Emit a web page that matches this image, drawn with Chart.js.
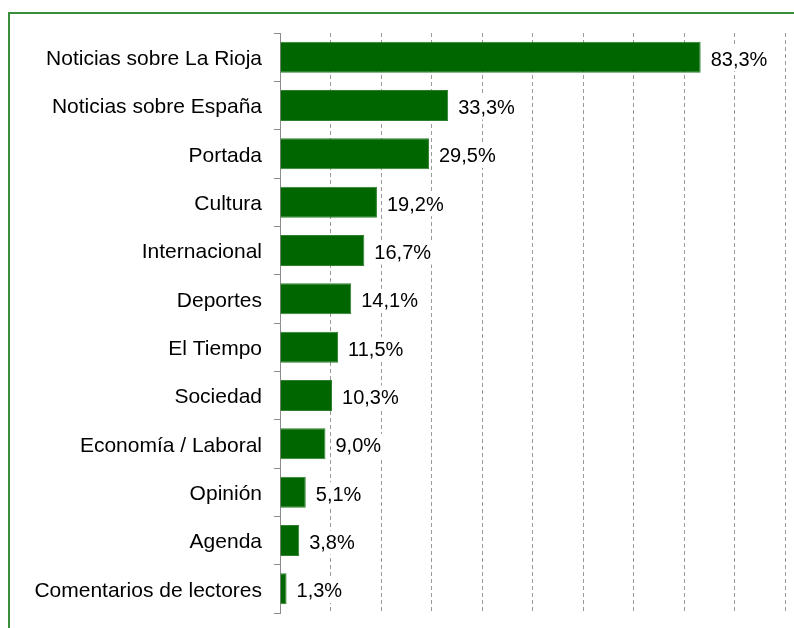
<!DOCTYPE html>
<html>
<head>
<meta charset="utf-8">
<script src="https://cdn.jsdelivr.net/npm/chart.js@4"></script>
<style>
  body { margin: 0; background: #fff; }
  #wrap { width: 794px; height: 628px; position: relative; }
</style>
</head>
<body>
<div id="wrap"><canvas id="chart" width="794" height="628"></canvas></div>
<script>
const categories = [
  'Noticias sobre La Rioja',
  'Noticias sobre España',
  'Portada',
  'Cultura',
  'Internacional',
  'Deportes',
  'El Tiempo',
  'Sociedad',
  'Economía / Laboral',
  'Opinión',
  'Agenda',
  'Comentarios de lectores'
];
const values = [83.3, 33.3, 29.5, 19.2, 16.7, 14.1, 11.5, 10.3, 9.0, 5.1, 3.8, 1.3];
const xTicks = [0, 10, 20, 30, 40, 50, 60, 70, 80, 90, 100];

const font = '"Liberation Sans", Arial, sans-serif';

// green frame round the chart (only top and left edges are in view)
const framePlugin = {
  id: 'frame',
  beforeDraw(chart) {
    const ctx = chart.ctx;
    ctx.save();
    ctx.strokeStyle = '#3a8f3a';
    ctx.lineWidth = 2;
    ctx.beginPath();
    ctx.moveTo(9, 628);
    ctx.lineTo(9, 13);
    ctx.lineTo(794, 13);
    ctx.stroke();
    ctx.restore();
  }
};

// value labels at the end of each bar
const valueLabels = {
  id: 'valueLabels',
  afterDatasetsDraw(chart) {
    const ctx = chart.ctx;
    const meta = chart.getDatasetMeta(0);
    ctx.save();
    ctx.font = '20px ' + font;
    ctx.textBaseline = 'middle';
    ctx.textAlign = 'left';
    meta.data.forEach((bar, i) => {
      const txt = values[i].toFixed(1).replace('.', ',') + '%';
      const w = ctx.measureText(txt).width;
      ctx.fillStyle = '#fff';
      ctx.fillRect(bar.x + 8, bar.y - 10, w + 5, 24);
      ctx.fillStyle = '#000';
      ctx.fillText(txt, bar.x + 10, bar.y + 3);
    });
    ctx.restore();
  }
};

new Chart(document.getElementById('chart'), {
  type: 'bar',
  data: {
    labels: categories,
    datasets: [{
      data: values,
      backgroundColor: '#006600',
      borderColor: '#2f7f2f',
      borderWidth: 1,
      categoryPercentage: 1,
      barPercentage: 0.64
    }]
  },
  options: {
    indexAxis: 'y',
    responsive: false,
    animation: false,
    layout: { padding: { left: 0, right: 9, top: 33, bottom: 15 } },
    plugins: { legend: { display: false }, tooltip: { enabled: false } },
    scales: {
      x: {
        min: 0,
        max: 100,
        afterBuildTicks(scale) {
          scale.ticks = xTicks.map(v => ({ value: v }));
        },
        afterFit(scale) { scale.height = 0; },
        ticks: { display: false },
        grid: {
          drawTicks: false,
          color: ctx => ctx.index === 0 ? 'rgba(0,0,0,0)' : '#9a9a9a',
          lineWidth: 1
        },
        border: { display: false, dash: [4, 3] }
      },
      y: {
        afterFit(scale) {
          scale.width = 280;
          scale.paddingTop = 0;
          scale.paddingBottom = 0;
        },
        border: { display: true, color: '#8c8c8c', width: 1 },
        grid: {
          offset: true,
          drawOnChartArea: false,
          drawTicks: true,
          tickLength: 6,
          color: '#8c8c8c'
        },
        ticks: {
          color: '#000',
          padding: 12,
          labelOffset: 2,
          font: { family: font, size: 21 }
        }
      }
    }
  },
  plugins: [framePlugin, valueLabels]
});
</script>
</body>
</html>
